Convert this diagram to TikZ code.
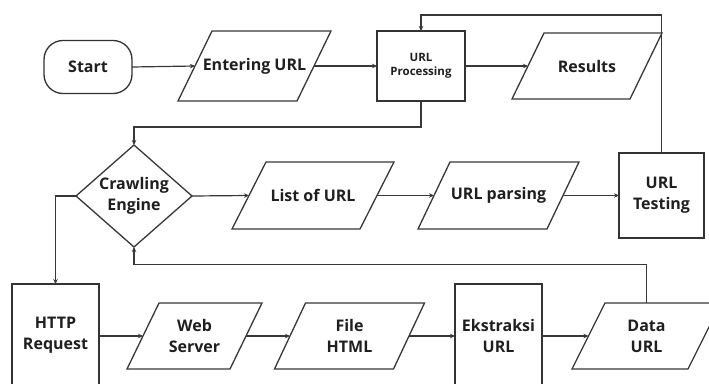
\documentclass[tikz,border=0pt]{standalone}
\usepackage{fontspec}
\setmainfont{Open Sans}
\usetikzlibrary{arrows.meta}
\newcommand\parashape[2]{\draw[shapeline] ([xshift=#2pt]#1.north west) -- ([xshift=#2pt]#1.north east) -- ([xshift=-#2pt]#1.south east) -- ([xshift=-#2pt]#1.south west) -- cycle;}
\begin{document}
\begin{tikzpicture}[x=1pt,y=-1pt,
 lbl/.style={font=\fontsize{16}{21}\selectfont\bfseries, align=center, inner sep=0pt, outer sep=0pt, text=black!88},
 box/.style={lbl, draw=black!80, line width=1.3pt},
 ghost/.style={lbl},
 shapeline/.style={draw=black!78, line width=1.3pt},
 conn/.style={draw=black!78, line width=1.2pt, -{Stealth[length=5pt,width=4.5pt]}},
 plain/.style={draw=black!78, line width=1.2pt}]
\fill[white] (0,0) rectangle (709,383);
\clip (0,0) rectangle (709,383);
% row 1
\node[box, rounded corners=19pt, minimum width=88pt, minimum height=53pt] (start) at (88,67) {Start};
\node[ghost, minimum width=119pt, minimum height=70pt] (eu) at (254.5,66) {Entering URL};
\parashape{eu}{17}
\node[box, minimum width=88pt, minimum height=70pt, font=\fontsize{11.5}{14}\selectfont\bfseries] (up) at (421,66) {URL\\Processing};
\node[ghost, minimum width=118pt, minimum height=66pt] (res) at (587,66) {Results};
\parashape{res}{16}
% row 2
\node[ghost, minimum width=116pt, minimum height=102pt] (ce) at (134,196) {Crawling\\Engine};
\draw[shapeline] (ce.north) -- (ce.east) -- (ce.south) -- (ce.west) -- cycle;
\node[ghost, minimum width=128pt, minimum height=67pt] (lou) at (313,195.5) {List of URL};
\parashape{lou}{17}
\node[ghost, minimum width=129pt, minimum height=67pt] (parse) at (498.5,195.5) {URL parsing};
\parashape{parse}{16}
\node[box, minimum width=85pt, minimum height=85pt] (test) at (661.5,195.5) {URL\\Testing};
% row 3
\node[box, minimum width=87pt, minimum height=103pt] (http) at (55.5,335.5) {HTTP\\Request};
\node[ghost, minimum width=103pt, minimum height=66pt] (ws) at (194.5,336) {Web\\Server};
\parashape{ws}{16}
\node[ghost, minimum width=119pt, minimum height=66pt] (fh) at (349.5,336) {File\\HTML};
\parashape{fh}{15.5}
\node[box, minimum width=87pt, minimum height=103pt] (ek) at (498.5,335.5) {Ekstraksi\\URL};
\node[ghost, minimum width=116pt, minimum height=66pt] (du) at (646.5,336) {Data\\URL};
\parashape{du}{16.5}
% connectors
\coordinate (topline) at (0,15);
\draw[conn] (start.east) -- (eu.west);
\draw[conn] (eu.east) -- (up.west);
\draw[conn] (up.east) -- (res.west);
\draw[conn] (test.north) -- (test.north |- topline) -| (up.north);
\draw[conn] (up.south) -- ++(0,26) -| (ce.north);
\draw[conn] (ce.east) -- (lou.west);
\draw[conn] (lou.east) -- (parse.west);
\draw[conn] (parse.east) -- (test.west);
\draw[conn] (ce.west) -| (http.north);
\draw[conn] (du.north) -- ++(0,-38.5) -| (ce.south);
\draw[conn] (http.east |- ws.west) -- (ws.west);
\draw[conn] (ws.east) -- (fh.west);
\draw[conn] (fh.east) -- (fh.east -| ek.west);
\draw[conn] (ek.east |- du.west) -- (du.west);
\end{tikzpicture}
\end{document}
